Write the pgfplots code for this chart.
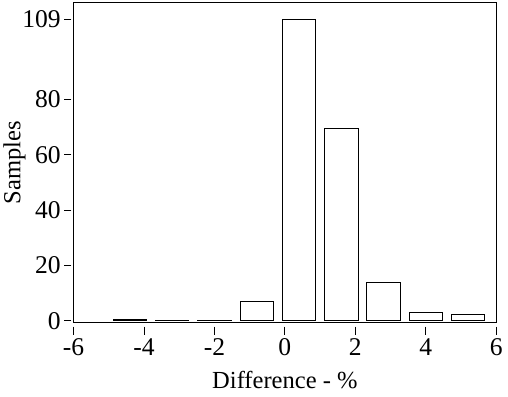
\documentclass[border={0pt 5pt 2pt 2pt}]{standalone}
\usepackage{pgfplots}
\pgfplotsset{compat=1.18}
\usepackage{fontspec}
\setmainfont{Liberation Serif}
\begin{document}
\begin{tikzpicture}
\begin{axis}[
  scale only axis, width=412bp, height=312bp,
  xmin=-6, xmax=6, ymin=-0.6, ymax=115,
  xtick={-6,-4,...,6}, ytick={0,20,40,60,80,109},
  major tick length=0pt,
  xticklabel style={yshift=-12bp},
  yticklabel style={xshift=-9bp},
  every tick label/.append style={font=\fontsize{25}{28}\selectfont},
  /pgf/number format/assume math mode=true,
  label style={font=\fontsize{24}{27}\selectfont},
  xlabel={Difference - \%}, ylabel={Samples},
  xlabel style={yshift=-8bp}, ylabel style={yshift=-10bp},
  axis line style={line width=0.8pt},
  clip=false,
]
\addplot[ybar, bar width=0.95, bar shift=0pt, draw=black, fill=white, line width=0.8pt] coordinates {
(-4.4,0.4) (-3.2,0.3) (-2.0,0.3) (-0.8,7) (0.4,109) (1.6,69.5) (2.8,14) (4.0,3.2) (5.2,2.4)};
\foreach \t in {-6,-4,...,6} {
  \edef\temp{\noexpand\draw[line width=0.8pt] (axis cs:\t,-2.1) -- (axis cs:\t,-5.0);}\temp
}
\foreach \t in {0,20,40,60,80,109} {
  \edef\temp{\noexpand\draw[line width=0.8pt] (axis cs:-6.06,\t) -- (axis cs:-6.26,\t);}\temp
}
\end{axis}
\end{tikzpicture}
\end{document}
